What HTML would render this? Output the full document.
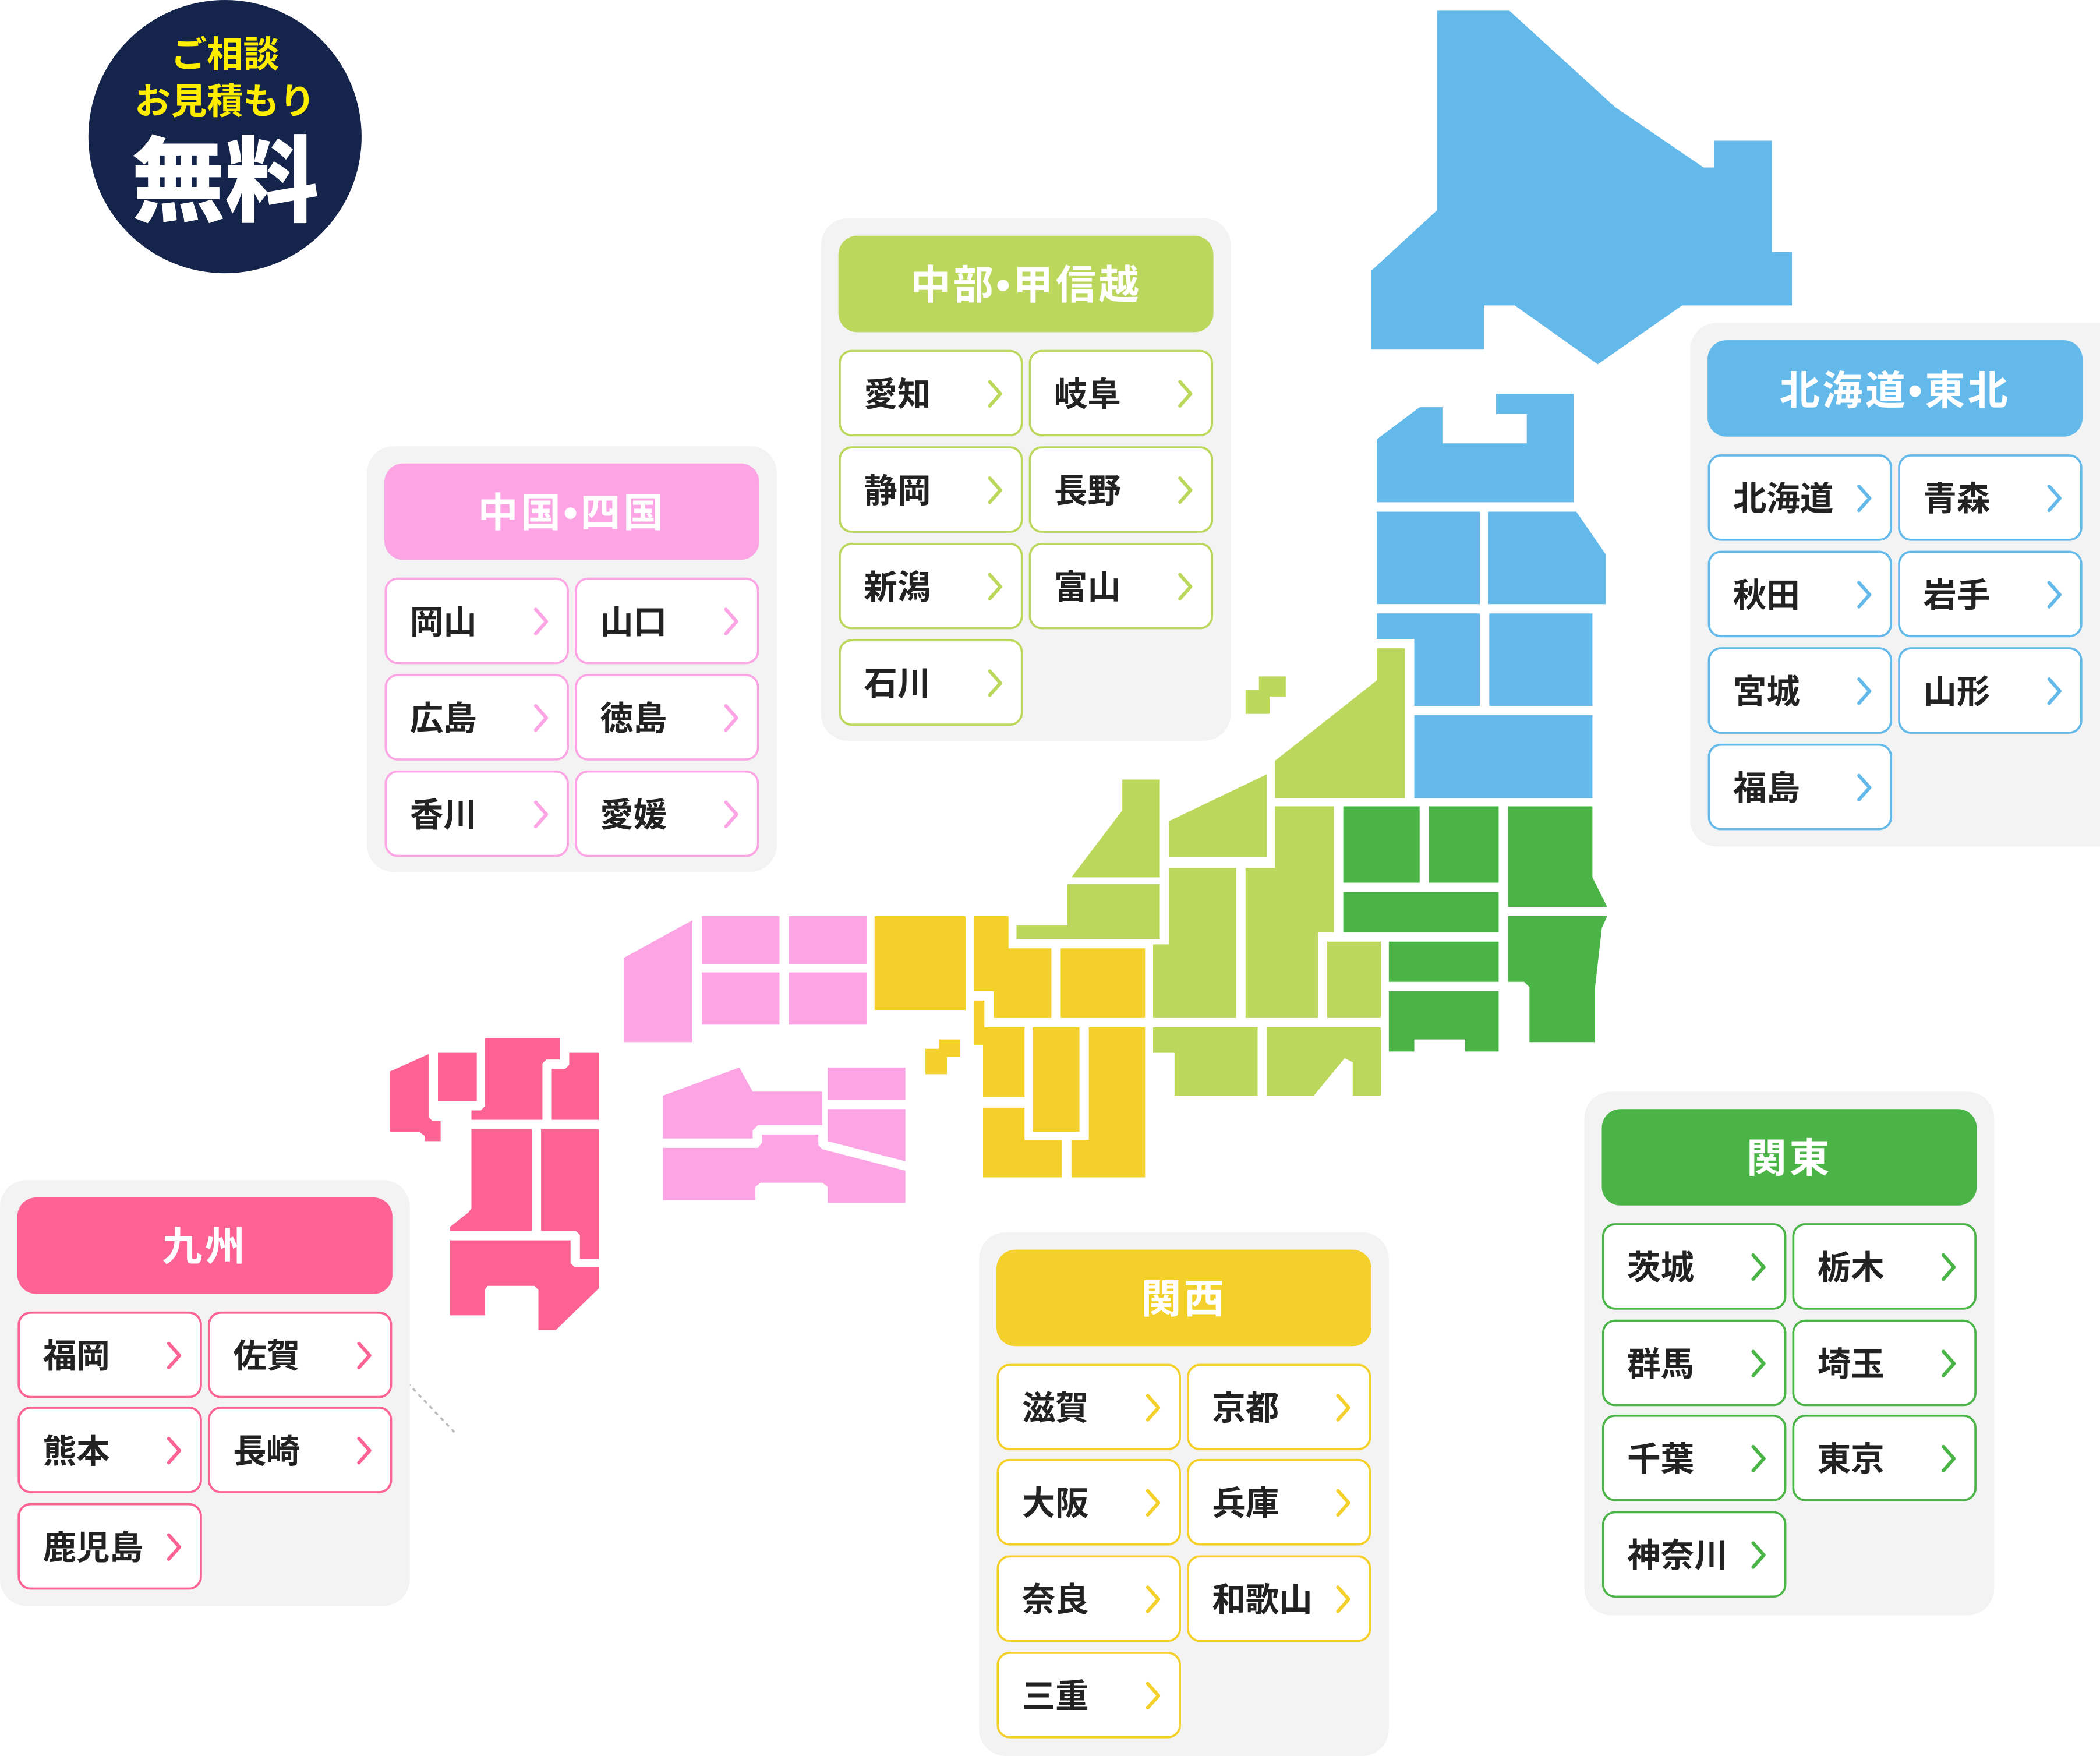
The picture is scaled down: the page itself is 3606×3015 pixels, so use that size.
<!DOCTYPE html>
<html><head><meta charset="utf-8">
<style>
html,body{margin:0;padding:0;background:#fff;}
svg{display:block;}
text{font-family:"Liberation Sans","Noto Sans CJK JP",sans-serif;font-weight:bold;}
.bt{fill:#222;font-size:25px;}
.hd{fill:#fff;font-size:30px;letter-spacing:2px;}
.blue rect.b{stroke:#63b9ea}.blue path.c{stroke:#63b9ea}
.lg rect.b{stroke:#bcd85c}.lg path.c{stroke:#bcd85c}
.yl rect.b{stroke:#f4d02b}.yl path.c{stroke:#f4d02b}
.pl rect.b{stroke:#fda4e4}.pl path.c{stroke:#fda4e4}
.hp rect.b{stroke:#fc6292}.hp path.c{stroke:#fc6292}
.gr rect.b{stroke:#4ab546}.gr path.c{stroke:#4ab546}
rect.b{fill:#fff;stroke-width:1.6;}
path.c{fill:none;stroke-width:2.6;stroke-linecap:round;stroke-linejoin:round;}
</style></head>
<body>
<svg width="3606" height="3015" viewBox="0 0 1568 1311" xmlns="http://www.w3.org/2000/svg">
<circle cx="168" cy="102" r="102" fill="#15244a"/>
<text x="168" y="50" text-anchor="middle" fill="#ffed00" style="font-size:27px">ご相談</text>
<text x="168" y="85" text-anchor="middle" fill="#ffed00" style="font-size:27px">お見積もり</text>
<text x="168" y="160" text-anchor="middle" fill="#fff" style="font-size:70px;font-weight:900">無料</text>

<line x1="300" y1="1028" x2="340" y2="1070" stroke="#bbb" stroke-width="1.5" stroke-dasharray="3,3"/>

<g fill="#63b9ea">
<polygon points="1073,8 1127,8 1206,80 1272,125 1280,125 1280,105 1323,105 1323,188 1338,188 1338,228 1256,228 1193,272 1131,228 1108,228 1108,261 1024,261 1024,202 1073,157"/>
<polygon points="1028,328 1060,304 1077,304 1077,331 1140,331 1140,309 1117,309 1117,294 1175,294 1175,375 1028,375"/>
<rect x="1028" y="382" width="77" height="69"/>
<polygon points="1111,382 1177,382 1199,414 1199,451 1111,451"/>
<polygon points="1028,458 1105,458 1105,527 1056,527 1056,477 1028,477"/>
<rect x="1112" y="458" width="77" height="69"/>
<rect x="1056" y="534" width="133" height="62"/>
</g>
<g fill="#4ab546">
<rect x="1003" y="602" width="57" height="57"/>
<rect x="1067" y="602" width="52" height="57"/>
<polygon points="1126,602 1189,602 1189,655 1200,677 1126,677"/>
<rect x="1003" y="666" width="116" height="30"/>
<polygon points="1126,684 1200,684 1196,693 1191,737 1191,778 1142,778 1142,737 1138,733 1126,733"/>
<rect x="1037" y="703" width="82" height="30"/>
<polygon points="1037,740 1119,740 1119,785 1094,785 1094,776 1056,776 1056,785 1037,785"/>
</g>
<g fill="#bcd85c">
<polygon points="940,505 960,505 960,520 948,520 948,533 930,533 930,515 940,515"/>
<polygon points="952,568 1028,508 1028,484 1049,484 1049,596 952,596"/>
<polygon points="952,602 996,602 996,696 984,696 984,760 930,760 930,648 952,648"/>
<rect x="991" y="703" width="40" height="57"/>
<polygon points="873,613 946,578 946,640 873,640"/>
<polygon points="800,655 838,605 838,582 866,582 866,655"/>
<polygon points="797,660 866,660 866,701 759,701 759,691 797,691"/>
<polygon points="873,648 923,648 923,760 861,760 861,705 873,705"/>
<polygon points="861,767 939,767 939,818 877,818 877,786 861,786"/>
<polygon points="946,767 1031,767 1031,818 1010,818 1010,793 1004,790 981,818 946,818"/>
</g>
<g fill="#f4d02b">
<rect x="653" y="684" width="68" height="70"/>
<polygon points="727,684 753,684 753,708 785,708 785,760 742,760 742,740 727,740"/>
<rect x="792" y="708" width="63" height="52"/>
<polygon points="727,747 735,747 735,767 765,767 765,819 734,819 734,780 727,780"/>
<rect x="771" y="767" width="35" height="78"/>
<polygon points="813,767 855,767 855,879 800,879 800,851 813,851"/>
<polygon points="734,827 765,827 765,851 793,851 793,879 734,879"/>
<polygon points="701,776 717,776 717,789 707,789 707,802 691,802 691,783 701,783"/>
</g>
<g fill="#fda4e4">
<polygon points="466,715 517,687 517,778 466,778"/>
<rect x="524" y="684" width="58" height="36"/>
<rect x="589" y="684" width="58" height="36"/>
<rect x="524" y="726" width="58" height="39"/>
<rect x="589" y="726" width="58" height="39"/>
<polygon points="495,818 552,797 562,815 614,815 614,840 566,840 562,844 562,850 495,850"/>
<rect x="618" y="797" width="58" height="24"/>
<polygon points="618,828 676,828 676,867 618,852"/>
<polygon points="495,857 566,857 569,853 569,847 611,847 611,855 614,858 676,874 676,898 618,898 618,886 614,883 568,883 564,886 564,896 495,896"/>
</g>
<g fill="#fc6292">
<polygon points="291,800 320,787 320,834 323,837 329,837 329,852 317,852 317,848 313,845 291,845"/>
<rect x="327" y="786" width="29" height="36"/>
<polygon points="352,829 359,829 362,826 362,775 418,775 418,791 408,791 405,794 405,836 352,836"/>
<polygon points="412,798 422,798 425,795 425,786 447,786 447,836 412,836"/>
<polygon points="352,843 397,843 397,919 336,919 336,916 350,905 352,902"/>
<polygon points="404,843 447,843 447,940 433,940 433,922 430,919 404,919"/>
<polygon points="336,926 426,926 426,943 429,946 447,946 447,962 415,993 402,993 402,963 399,960 364,960 362,963 362,982 336,982"/>
</g>

<g class="lg">
<rect x="613" y="163" width="306" height="390" rx="20" fill="#f3f3f3"/>
<rect x="626" y="176" width="280" height="72" rx="14" fill="#bcd85c"/>
<text class="hd" x="766" y="223" text-anchor="middle">中部•甲信越</text>
<g transform="translate(627,262)"><rect class="b" width="136" height="63" rx="9"/><text class="bt" x="18" y="41">愛知</text><path class="c" d="M112 23 l8 9 -8 9"/></g>
<g transform="translate(769,262)"><rect class="b" width="136" height="63" rx="9"/><text class="bt" x="18" y="41">岐阜</text><path class="c" d="M112 23 l8 9 -8 9"/></g>
<g transform="translate(627,334)"><rect class="b" width="136" height="63" rx="9"/><text class="bt" x="18" y="41">静岡</text><path class="c" d="M112 23 l8 9 -8 9"/></g>
<g transform="translate(769,334)"><rect class="b" width="136" height="63" rx="9"/><text class="bt" x="18" y="41">長野</text><path class="c" d="M112 23 l8 9 -8 9"/></g>
<g transform="translate(627,406)"><rect class="b" width="136" height="63" rx="9"/><text class="bt" x="18" y="41">新潟</text><path class="c" d="M112 23 l8 9 -8 9"/></g>
<g transform="translate(769,406)"><rect class="b" width="136" height="63" rx="9"/><text class="bt" x="18" y="41">富山</text><path class="c" d="M112 23 l8 9 -8 9"/></g>
<g transform="translate(627,478)"><rect class="b" width="136" height="63" rx="9"/><text class="bt" x="18" y="41">石川</text><path class="c" d="M112 23 l8 9 -8 9"/></g>
</g>

<g class="pl">
<rect x="274" y="333" width="306" height="318" rx="20" fill="#f3f3f3"/>
<rect x="287" y="346" width="280" height="72" rx="14" fill="#fda4e4"/>
<text class="hd" x="427" y="393" text-anchor="middle">中国•四国</text>
<g transform="translate(288,432)"><rect class="b" width="136" height="63" rx="9"/><text class="bt" x="18" y="41">岡山</text><path class="c" d="M112 23 l8 9 -8 9"/></g>
<g transform="translate(430,432)"><rect class="b" width="136" height="63" rx="9"/><text class="bt" x="18" y="41">山口</text><path class="c" d="M112 23 l8 9 -8 9"/></g>
<g transform="translate(288,504)"><rect class="b" width="136" height="63" rx="9"/><text class="bt" x="18" y="41">広島</text><path class="c" d="M112 23 l8 9 -8 9"/></g>
<g transform="translate(430,504)"><rect class="b" width="136" height="63" rx="9"/><text class="bt" x="18" y="41">徳島</text><path class="c" d="M112 23 l8 9 -8 9"/></g>
<g transform="translate(288,576)"><rect class="b" width="136" height="63" rx="9"/><text class="bt" x="18" y="41">香川</text><path class="c" d="M112 23 l8 9 -8 9"/></g>
<g transform="translate(430,576)"><rect class="b" width="136" height="63" rx="9"/><text class="bt" x="18" y="41">愛媛</text><path class="c" d="M112 23 l8 9 -8 9"/></g>
</g>

<g class="blue">
<rect x="1262" y="241" width="330" height="391" rx="20" fill="#f3f3f3"/>
<rect x="1275" y="254" width="280" height="72" rx="14" fill="#63b9ea"/>
<text class="hd" x="1415" y="302" text-anchor="middle">北海道•東北</text>
<g transform="translate(1276,340)"><rect class="b" width="136" height="63" rx="9"/><text class="bt" x="18" y="41">北海道</text><path class="c" d="M112 23 l8 9 -8 9"/></g>
<g transform="translate(1418,340)"><rect class="b" width="136" height="63" rx="9"/><text class="bt" x="18" y="41">青森</text><path class="c" d="M112 23 l8 9 -8 9"/></g>
<g transform="translate(1276,412)"><rect class="b" width="136" height="63" rx="9"/><text class="bt" x="18" y="41">秋田</text><path class="c" d="M112 23 l8 9 -8 9"/></g>
<g transform="translate(1418,412)"><rect class="b" width="136" height="63" rx="9"/><text class="bt" x="18" y="41">岩手</text><path class="c" d="M112 23 l8 9 -8 9"/></g>
<g transform="translate(1276,484)"><rect class="b" width="136" height="63" rx="9"/><text class="bt" x="18" y="41">宮城</text><path class="c" d="M112 23 l8 9 -8 9"/></g>
<g transform="translate(1418,484)"><rect class="b" width="136" height="63" rx="9"/><text class="bt" x="18" y="41">山形</text><path class="c" d="M112 23 l8 9 -8 9"/></g>
<g transform="translate(1276,556)"><rect class="b" width="136" height="63" rx="9"/><text class="bt" x="18" y="41">福島</text><path class="c" d="M112 23 l8 9 -8 9"/></g>
</g>

<g class="hp">
<rect x="0" y="881" width="306" height="318" rx="20" fill="#f3f3f3"/>
<rect x="13" y="894" width="280" height="72" rx="14" fill="#fc6292"/>
<text class="hd" x="153" y="941" text-anchor="middle">九州</text>
<g transform="translate(14,980)"><rect class="b" width="136" height="63" rx="9"/><text class="bt" x="18" y="41">福岡</text><path class="c" d="M112 23 l8 9 -8 9"/></g>
<g transform="translate(156,980)"><rect class="b" width="136" height="63" rx="9"/><text class="bt" x="18" y="41">佐賀</text><path class="c" d="M112 23 l8 9 -8 9"/></g>
<g transform="translate(14,1051)"><rect class="b" width="136" height="63" rx="9"/><text class="bt" x="18" y="41">熊本</text><path class="c" d="M112 23 l8 9 -8 9"/></g>
<g transform="translate(156,1051)"><rect class="b" width="136" height="63" rx="9"/><text class="bt" x="18" y="41">長崎</text><path class="c" d="M112 23 l8 9 -8 9"/></g>
<g transform="translate(14,1123)"><rect class="b" width="136" height="63" rx="9"/><text class="bt" x="18" y="41">鹿児島</text><path class="c" d="M112 23 l8 9 -8 9"/></g>
</g>

<g class="yl">
<rect x="731" y="920" width="306" height="391" rx="20" fill="#f3f3f3"/>
<rect x="744" y="933" width="280" height="72" rx="14" fill="#f4d02b"/>
<text class="hd" x="884" y="980" text-anchor="middle">関西</text>
<g transform="translate(745,1019)"><rect class="b" width="136" height="63" rx="9"/><text class="bt" x="18" y="41">滋賀</text><path class="c" d="M112 23 l8 9 -8 9"/></g>
<g transform="translate(887,1019)"><rect class="b" width="136" height="63" rx="9"/><text class="bt" x="18" y="41">京都</text><path class="c" d="M112 23 l8 9 -8 9"/></g>
<g transform="translate(745,1090)"><rect class="b" width="136" height="63" rx="9"/><text class="bt" x="18" y="41">大阪</text><path class="c" d="M112 23 l8 9 -8 9"/></g>
<g transform="translate(887,1090)"><rect class="b" width="136" height="63" rx="9"/><text class="bt" x="18" y="41">兵庫</text><path class="c" d="M112 23 l8 9 -8 9"/></g>
<g transform="translate(745,1162)"><rect class="b" width="136" height="63" rx="9"/><text class="bt" x="18" y="41">奈良</text><path class="c" d="M112 23 l8 9 -8 9"/></g>
<g transform="translate(887,1162)"><rect class="b" width="136" height="63" rx="9"/><text class="bt" x="18" y="41">和歌山</text><path class="c" d="M112 23 l8 9 -8 9"/></g>
<g transform="translate(745,1234)"><rect class="b" width="136" height="63" rx="9"/><text class="bt" x="18" y="41">三重</text><path class="c" d="M112 23 l8 9 -8 9"/></g>
</g>

<g class="gr">
<rect x="1183" y="815" width="306" height="391" rx="20" fill="#f3f3f3"/>
<rect x="1196" y="828" width="280" height="72" rx="14" fill="#4ab546"/>
<text class="hd" x="1336" y="875" text-anchor="middle">関東</text>
<g transform="translate(1197,914)"><rect class="b" width="136" height="63" rx="9"/><text class="bt" x="18" y="41">茨城</text><path class="c" d="M112 23 l8 9 -8 9"/></g>
<g transform="translate(1339,914)"><rect class="b" width="136" height="63" rx="9"/><text class="bt" x="18" y="41">栃木</text><path class="c" d="M112 23 l8 9 -8 9"/></g>
<g transform="translate(1197,986)"><rect class="b" width="136" height="63" rx="9"/><text class="bt" x="18" y="41">群馬</text><path class="c" d="M112 23 l8 9 -8 9"/></g>
<g transform="translate(1339,986)"><rect class="b" width="136" height="63" rx="9"/><text class="bt" x="18" y="41">埼玉</text><path class="c" d="M112 23 l8 9 -8 9"/></g>
<g transform="translate(1197,1057)"><rect class="b" width="136" height="63" rx="9"/><text class="bt" x="18" y="41">千葉</text><path class="c" d="M112 23 l8 9 -8 9"/></g>
<g transform="translate(1339,1057)"><rect class="b" width="136" height="63" rx="9"/><text class="bt" x="18" y="41">東京</text><path class="c" d="M112 23 l8 9 -8 9"/></g>
<g transform="translate(1197,1129)"><rect class="b" width="136" height="63" rx="9"/><text class="bt" x="18" y="41">神奈川</text><path class="c" d="M112 23 l8 9 -8 9"/></g>
</g>
</svg>
</body></html>
